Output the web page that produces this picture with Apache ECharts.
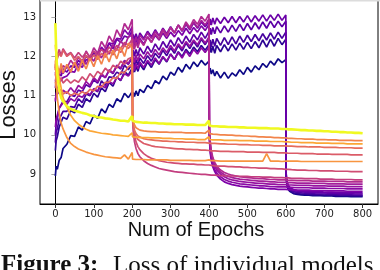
<!DOCTYPE html>
<html>
<head>
<meta charset="utf-8">
<script src="https://cdn.jsdelivr.net/npm/echarts@6/dist/echarts.min.js"></script>
<style>
html,body{margin:0;padding:0;background:#fff;}
#chart{width:380px;height:270px;}
</style>
</head>
<body>
<div id="chart"></div>
<script>
// ---- tick labels ----
const xTicks = [0, 100, 200, 300, 400, 500, 600, 700, 800];
const yTicks = [9, 10, 11, 12, 13];

// ---- epochs (shared x values) ----
const epochs = [
  0,2,5,10,15,20,30,40,50,60,70,80,90,100,110,120,130,140,150,160,170,180,190,200,
  201,203,206,210,215,220,230,240,250,260,270,280,290,300,310,320,330,340,350,360,370,380,390,400,
  401,403,406,410,415,420,430,440,450,460,470,480,490,500,510,520,530,540,550,560,570,580,590,600,
  601,603,606,610,615,620,630,640,650,660,670,680,690,700,710,720,730,740,750,760,770,780,790,800
];

// ---- losses of individual models ----
const lossM0 = [ // dark blue
  8.95,9.2,9.12,9.35,9.42,9.65,9.76,9.98,9.96,10.2,10.12,10.34,10.28,10.5,10.42,10.66,10.56,10.78,10.7,10.92,10.84,11.06,10.95,11.1,
  10.95,11.08,10.98,11.12,11.0,11.16,11.08,11.26,11.18,11.38,11.3,11.5,11.4,11.6,11.52,11.72,11.6,11.8,11.68,11.86,11.74,11.9,11.78,11.88,
  11.62,11.7,11.55,11.66,11.5,11.62,11.45,11.6,11.44,11.58,11.5,11.66,11.54,11.72,11.6,11.76,11.66,11.82,11.72,11.88,11.78,11.94,11.84,11.92,
  8.88,8.72,8.62,8.56,8.52,8.5,8.48,8.47,8.46,8.46,8.45,8.45,8.45,8.44,8.44,8.44,8.43,8.43,8.43,8.43,8.42,8.42,8.42,8.42
];
const lossM1 = [
  9.6,9.85,9.95,10.2,10.22,10.45,10.4,10.62,10.56,10.78,10.7,10.92,10.84,11.06,10.96,11.2,11.1,11.34,11.24,11.48,11.38,11.62,11.52,11.7,
  11.58,11.72,11.6,11.74,11.62,11.8,11.66,11.86,11.72,11.92,11.8,11.98,11.86,12.06,11.92,12.12,12.0,12.18,12.06,12.24,12.12,12.28,12.16,12.3,
  12.1,12.26,12.1,12.26,12.08,12.28,12.12,12.3,12.14,12.32,12.16,12.34,12.18,12.36,12.2,12.38,12.22,12.42,12.24,12.44,12.26,12.46,12.3,12.44,
  8.9,8.74,8.64,8.58,8.54,8.52,8.5,8.49,8.48,8.48,8.47,8.47,8.47,8.46,8.46,8.46,8.45,8.45,8.45,8.45,8.44,8.44,8.44,8.44
];
const lossM2 = [
  9.8,10.08,10.15,10.4,10.4,10.6,10.6,10.72,10.7,10.92,10.82,11.04,11.0,11.16,11.1,11.38,11.26,11.48,11.46,11.6,11.54,11.78,11.66,11.82,
  11.75,11.9,11.74,11.92,11.78,11.96,11.82,12.02,11.88,12.08,11.96,12.16,12.02,12.22,12.08,12.28,12.14,12.34,12.2,12.38,12.24,12.44,12.3,12.46,
  12.26,12.42,12.24,12.44,12.26,12.46,12.28,12.48,12.3,12.5,12.32,12.52,12.36,12.54,12.38,12.56,12.4,12.58,12.42,12.6,12.44,12.62,12.46,12.62,
  8.92,8.77,8.67,8.61,8.57,8.55,8.53,8.52,8.51,8.5,8.5,8.49,8.49,8.49,8.48,8.48,8.48,8.47,8.47,8.47,8.47,8.46,8.46,8.46
];
const lossM3 = [
  10.0,10.26,10.4,10.68,10.66,10.86,10.84,11.02,10.98,11.14,11.1,11.28,11.22,11.4,11.32,11.52,11.46,11.64,11.56,11.76,11.68,11.88,11.8,11.96,
  12.0,12.16,12.0,12.18,12.02,12.22,12.06,12.26,12.1,12.32,12.16,12.38,12.22,12.42,12.26,12.48,12.32,12.52,12.36,12.56,12.42,12.62,12.46,12.64,
  12.56,12.72,12.56,12.74,12.58,12.76,12.6,12.78,12.62,12.8,12.64,12.82,12.66,12.84,12.68,12.86,12.7,12.88,12.72,12.9,12.74,12.9,12.76,12.9,
  8.95,8.8,8.7,8.64,8.6,8.58,8.56,8.55,8.54,8.53,8.53,8.52,8.52,8.52,8.51,8.51,8.51,8.5,8.5,8.5,8.5,8.49,8.49,8.49
];
const lossM4 = [
  11.2,11.36,11.38,11.56,11.5,11.68,11.6,11.76,11.72,11.9,11.8,12.02,11.9,12.1,12.04,12.2,12.12,12.34,12.2,12.44,12.36,12.52,12.48,12.66,
  12.4,12.56,12.4,12.58,12.42,12.6,12.46,12.64,12.5,12.68,12.52,12.72,12.58,12.76,12.6,12.8,12.64,12.82,12.68,12.86,12.72,12.88,12.76,12.9,
  12.8,12.96,12.8,12.98,12.82,12.98,12.84,13.0,12.86,13.02,12.86,13.02,12.88,13.04,12.88,13.04,12.9,13.06,12.9,13.06,12.92,13.08,12.92,13.06,
  9.0,8.82,8.72,8.66,8.62,8.6,8.58,8.57,8.56,8.56,8.55,8.55,8.55,8.54,8.54,8.54,8.53,8.53,8.53,8.53,8.52,8.52,8.52,8.52
];
const lossM5 = [
  10.85,11.05,11.1,11.32,11.28,11.46,11.5,11.62,11.6,11.82,11.72,11.92,11.9,12.04,12.0,12.24,12.12,12.34,12.32,12.46,12.44,12.68,12.56,12.76,
  12.26,12.42,12.26,12.44,12.28,12.46,12.32,12.5,12.36,12.54,12.42,12.6,12.46,12.62,12.5,12.66,12.54,12.72,12.58,12.74,12.62,12.78,12.66,12.82,
  9.9,9.56,9.34,9.18,9.06,8.97,8.87,8.8,8.76,8.73,8.71,8.69,8.68,8.67,8.66,8.65,8.64,8.64,8.63,8.62,8.62,8.61,8.61,8.61,
  8.61,8.61,8.6,8.6,8.6,8.6,8.59,8.59,8.59,8.59,8.58,8.58,8.58,8.58,8.57,8.57,8.57,8.57,8.57,8.56,8.56,8.56,8.56,8.56
];
const lossM6 = [
  10.2,10.4,10.45,10.68,10.66,10.82,10.78,10.92,10.86,11.0,10.96,11.08,11.02,11.18,11.12,11.26,11.2,11.36,11.3,11.46,11.4,11.56,11.5,11.64,
  11.66,11.8,11.64,11.82,11.68,11.86,11.72,11.9,11.78,11.96,11.82,12.0,11.88,12.06,11.92,12.1,11.96,12.14,12.0,12.18,12.06,12.22,12.1,12.24,
  9.95,9.62,9.4,9.24,9.12,9.03,8.93,8.86,8.82,8.79,8.77,8.75,8.74,8.73,8.72,8.71,8.7,8.7,8.69,8.68,8.68,8.67,8.67,8.67,
  8.67,8.67,8.66,8.66,8.66,8.66,8.65,8.65,8.65,8.65,8.64,8.64,8.64,8.64,8.63,8.63,8.63,8.63,8.63,8.62,8.62,8.62,8.62,8.62
];
const lossM7 = [
  10.9,11.0,10.95,11.1,10.98,11.14,11.06,11.2,11.08,11.26,11.18,11.36,11.26,11.46,11.36,11.56,11.46,11.66,11.58,11.78,11.7,11.9,11.82,12.0,
  11.86,12.0,11.84,12.04,11.88,12.06,11.94,12.12,11.98,12.18,12.04,12.22,12.1,12.28,12.14,12.32,12.2,12.38,12.26,12.42,12.3,12.48,12.34,12.5,
  10.0,9.7,9.48,9.32,9.2,9.1,9.0,8.93,8.88,8.85,8.83,8.81,8.8,8.79,8.78,8.77,8.76,8.76,8.75,8.74,8.74,8.73,8.73,8.73,
  8.73,8.73,8.72,8.72,8.72,8.72,8.71,8.71,8.71,8.71,8.7,8.7,8.7,8.7,8.69,8.69,8.69,8.69,8.69,8.68,8.68,8.68,8.68,8.68
];
const lossM8 = [
  11.6,11.46,11.66,11.5,11.72,11.56,11.76,11.62,11.84,11.7,11.92,11.8,12.0,11.88,12.1,11.96,12.2,12.06,12.3,12.16,12.4,12.26,12.5,12.54,
  12.3,12.46,12.32,12.5,12.36,12.54,12.42,12.6,12.46,12.64,12.52,12.7,12.56,12.74,12.6,12.8,12.66,12.84,12.7,12.88,12.74,12.92,12.8,12.96,
  10.1,9.78,9.55,9.38,9.25,9.15,9.05,8.98,8.94,8.91,8.89,8.87,8.86,8.85,8.84,8.83,8.82,8.82,8.81,8.8,8.8,8.79,8.79,8.79,
  8.79,8.79,8.78,8.78,8.78,8.78,8.77,8.77,8.77,8.77,8.76,8.76,8.76,8.76,8.75,8.75,8.75,8.75,8.75,8.74,8.74,8.74,8.74,8.74
];
const lossM9 = [
  11.36,11.5,11.5,11.68,11.6,11.76,11.7,11.9,11.76,11.98,11.86,12.14,11.96,12.22,12.08,12.38,12.22,12.52,12.36,12.68,12.5,12.84,12.68,12.95,
  12.16,12.32,12.18,12.36,12.22,12.42,12.28,12.5,12.36,12.58,12.44,12.66,12.52,12.74,12.6,12.8,12.66,12.88,12.74,12.94,12.82,13.02,12.9,13.08,
  10.2,9.85,9.6,9.42,9.3,9.2,9.1,9.04,9.0,8.97,8.95,8.93,8.92,8.91,8.9,8.89,8.88,8.88,8.87,8.86,8.86,8.85,8.85,8.85,
  8.85,8.85,8.84,8.84,8.84,8.84,8.83,8.83,8.83,8.83,8.82,8.82,8.82,8.82,8.81,8.81,8.81,8.81,8.81,8.8,8.8,8.8,8.8,8.8
];
const lossM10 = [
  11.7,11.95,12.0,12.18,12.02,12.2,12.04,12.1,11.96,12.1,11.98,12.1,12.0,12.14,12.02,12.18,12.08,12.24,12.12,12.28,12.2,12.36,12.28,12.44,
  10.4,10.05,9.82,9.65,9.52,9.44,9.34,9.27,9.22,9.18,9.14,9.12,9.1,9.08,9.06,9.05,9.04,9.03,9.02,9.01,9.0,8.99,8.99,8.98,
  8.98,8.98,8.97,8.97,8.97,8.96,8.96,8.96,8.95,8.95,8.95,8.94,8.94,8.94,8.93,8.93,8.93,8.92,8.92,8.92,8.91,8.91,8.91,8.9,
  8.9,8.9,8.9,8.9,8.89,8.89,8.89,8.89,8.88,8.88,8.88,8.88,8.87,8.87,8.87,8.87,8.86,8.86,8.86,8.86,8.86,8.85,8.85,8.85
];
const lossM11 = [
  11.55,11.44,11.5,11.36,11.46,11.32,11.42,11.32,11.4,11.34,11.48,11.38,11.56,11.46,11.62,11.54,11.7,11.6,11.78,11.7,11.88,11.8,11.94,11.98,
  10.55,10.2,9.98,9.82,9.7,9.62,9.52,9.45,9.4,9.37,9.34,9.32,9.3,9.29,9.28,9.27,9.26,9.26,9.25,9.25,9.24,9.24,9.23,9.23,
  9.23,9.22,9.22,9.22,9.21,9.21,9.2,9.2,9.19,9.19,9.18,9.18,9.17,9.17,9.16,9.16,9.15,9.15,9.15,9.14,9.14,9.13,9.13,9.12,
  9.12,9.12,9.12,9.11,9.11,9.11,9.1,9.1,9.1,9.09,9.09,9.09,9.08,9.08,9.08,9.08,9.07,9.07,9.07,9.07,9.06,9.06,9.06,9.06
];
const lossM12 = [
  11.65,11.86,11.9,12.08,12.0,12.16,12.0,12.08,11.9,12.0,11.88,12.02,11.9,12.04,11.92,12.08,11.98,12.14,12.04,12.2,12.1,12.28,12.2,12.34,
  10.5,10.22,10.05,9.95,9.88,9.83,9.78,9.75,9.72,9.7,9.69,9.68,9.67,9.66,9.65,9.64,9.64,9.63,9.63,9.62,9.62,9.61,9.61,9.6,
  9.6,9.6,9.59,9.59,9.59,9.59,9.58,9.58,9.58,9.57,9.57,9.57,9.57,9.56,9.56,9.56,9.56,9.55,9.55,9.55,9.55,9.54,9.54,9.54,
  9.54,9.54,9.53,9.53,9.53,9.53,9.53,9.52,9.52,9.52,9.52,9.51,9.51,9.51,9.51,9.5,9.5,9.5,9.5,9.5,9.49,9.49,9.49,9.49
];
const lossM13 = [
  11.35,11.2,11.25,11.1,11.16,11.04,11.1,11.0,11.06,11.02,11.1,11.04,11.16,11.12,11.24,11.22,11.34,11.34,11.46,11.44,11.6,11.58,11.74,11.78,
  10.45,10.25,10.12,10.03,9.97,9.93,9.9,9.88,9.87,9.86,9.85,9.84,9.84,9.83,9.83,9.82,9.82,9.81,9.81,9.81,9.8,9.8,9.8,9.79,
  9.79,9.79,9.78,9.78,9.78,9.77,9.77,9.77,9.76,9.76,9.76,9.75,9.75,9.75,9.74,9.74,9.74,9.73,9.73,9.73,9.72,9.72,9.72,9.72,
  9.72,9.72,9.71,9.71,9.71,9.71,9.7,9.7,9.7,9.69,9.69,9.69,9.69,9.68,9.68,9.68,9.68,9.67,9.67,9.67,9.67,9.66,9.66,9.66
];
const lossM14 = [
  11.8,11.5,11.78,11.56,11.82,11.58,11.8,11.6,11.86,11.62,11.9,11.68,11.96,11.74,12.02,11.8,12.08,11.86,12.16,11.94,12.24,12.0,12.34,12.2,
  10.55,10.35,10.25,10.18,10.14,10.12,10.1,10.09,10.08,10.08,10.07,10.07,10.07,10.06,10.06,10.06,10.06,10.05,10.05,10.05,10.05,10.05,10.04,10.12,
  10.03,10.03,10.02,10.02,10.01,10.01,10.0,10.0,9.99,9.99,9.98,9.98,9.97,9.97,9.96,9.96,9.95,9.95,9.94,9.94,9.93,9.93,9.92,9.92,
  9.92,9.92,9.91,9.91,9.91,9.91,9.9,9.9,9.89,9.89,9.89,9.88,9.88,9.88,9.87,9.87,9.87,9.86,9.86,9.86,9.86,9.85,9.85,9.85
];
const lossM15 = [
  11.9,11.4,10.95,10.55,10.3,10.15,9.93,9.78,9.7,9.64,9.6,9.56,9.53,9.5,9.48,9.46,9.44,9.43,9.42,9.41,9.4,9.49,9.38,9.55,
  9.38,9.38,9.37,9.37,9.37,9.37,9.37,9.36,9.36,9.36,9.36,9.36,9.36,9.35,9.35,9.35,9.35,9.35,9.35,9.34,9.34,9.34,9.34,9.36,
  9.34,9.34,9.34,9.34,9.34,9.34,9.33,9.33,9.33,9.33,9.33,9.33,9.33,9.33,9.33,9.33,9.33,9.33,9.52,9.33,9.33,9.33,9.32,9.33,
  9.33,9.33,9.33,9.33,9.33,9.33,9.33,9.32,9.32,9.32,9.32,9.32,9.32,9.32,9.32,9.32,9.32,9.32,9.32,9.32,9.32,9.32,9.32,9.32
];
const lossM16 = [
  12.3,12.0,11.7,11.45,11.2,10.95,10.7,10.5,10.36,10.27,10.2,10.14,10.1,10.08,10.06,10.04,10.03,10.02,10.0,9.99,9.98,9.97,9.96,10.05,
  9.95,9.95,9.94,9.94,9.94,9.93,9.93,9.93,9.92,9.92,9.92,9.91,9.91,9.91,9.9,9.9,9.9,9.89,9.89,9.89,9.88,9.88,9.88,9.95,
  9.88,9.88,9.88,9.87,9.87,9.87,9.87,9.86,9.86,9.86,9.86,9.85,9.85,9.85,9.85,9.84,9.84,9.84,9.84,9.83,9.83,9.83,9.83,9.82,
  9.82,9.82,9.82,9.81,9.81,9.81,9.81,9.8,9.8,9.8,9.8,9.79,9.79,9.79,9.79,9.78,9.78,9.78,9.78,9.77,9.77,9.77,9.77,9.77
];
const lossM17 = [ // yellow
  12.85,12.2,11.55,11.15,10.95,10.85,10.73,10.66,10.62,10.59,10.56,10.54,10.5,10.48,10.45,10.44,10.42,10.41,10.39,10.38,10.36,10.36,10.34,10.48,
  10.36,10.34,10.33,10.33,10.32,10.32,10.31,10.31,10.3,10.3,10.29,10.29,10.28,10.28,10.27,10.27,10.27,10.26,10.26,10.26,10.25,10.25,10.25,10.36,
  10.24,10.23,10.23,10.22,10.22,10.22,10.21,10.21,10.2,10.2,10.2,10.19,10.19,10.18,10.18,10.18,10.17,10.17,10.17,10.16,10.16,10.16,10.15,10.15,
  10.15,10.15,10.14,10.14,10.14,10.13,10.13,10.12,10.12,10.11,10.11,10.1,10.1,10.09,10.09,10.08,10.08,10.07,10.07,10.06,10.06,10.05,10.05,10.04
];

const allLosses = [lossM0,lossM1,lossM2,lossM3,lossM4,lossM5,lossM6,lossM7,lossM8,lossM9,
                   lossM10,lossM11,lossM12,lossM13,lossM14,lossM15,lossM16,lossM17];
const lineColors = ['#0d0887','#2c0594','#46039f','#5c01a6','#6a00a8','#7e03a8','#8a09a5','#9612a0','#a31e9a','#b12a90',
                    '#c33e7f','#d04d73','#db5c68','#e66c5c','#f2844b','#f89540','#fca636','#f0f921'];

allLosses.forEach((a, k) => { if (a.length !== epochs.length) throw new Error('series ' + k + ' has ' + a.length); });

const chart = echarts.init(document.getElementById('chart'), null, {renderer: 'canvas'});
const tickFont = 'DejaVu Sans';
chart.setOption({
  animation: false,
  backgroundColor: '#fff',
  grid: {left: 40, right: 2, top: 0, bottom: 66, show: true, borderColor: '#000', borderWidth: 1},
  xAxis: {
    type: 'value', min: -40, max: 840,
    axisLine: {show: true, lineStyle: {color: '#000', width: 1}},
    axisTick: {show: true, customValues: xTicks, length: 4, lineStyle: {color: '#333'}},
    axisLabel: {customValues: xTicks, fontFamily: tickFont, fontSize: 10, color: '#222', margin: 5},
    splitLine: {show: false}
  },
  yAxis: {
    type: 'value', min: 8.235, max: 13.44,
    axisLine: {show: true, lineStyle: {color: '#000', width: 1}},
    axisTick: {show: true, customValues: yTicks, length: 4, lineStyle: {color: '#aaa'}},
    axisLabel: {customValues: yTicks, fontFamily: tickFont, fontSize: 10, color: '#222', margin: 4},
    splitLine: {show: false}
  },
  series: allLosses.map((vals, k) => ({
    type: 'line',
    data: epochs.map((e, i) => [e, vals[i]]),
    showSymbol: false,
    symbol: 'none',
    lineStyle: {color: lineColors[k], width: k === 17 ? 2.6 : 1.7},
    z: 2 + k,
    silent: true
  })),
  graphic: [
    {type: 'rect', z: 100, shape: {x: 40, y: 0, width: 340, height: 1.5}, style: {fill: '#dcdcdc'}},
    {type: 'text', x: 9, y: 105, rotation: Math.PI / 2,
     style: {text: 'Losses', font: '22px "Liberation Sans"', fill: '#111', textAlign: 'center', textVerticalAlign: 'middle'}},
    {type: 'text', x: 196, y: 230,
     style: {text: 'Num of Epochs', font: '20px "Liberation Sans"', fill: '#111', textAlign: 'center', textVerticalAlign: 'middle'}},
    {type: 'text', x: 1, y: 266,
     style: {text: 'Figure 3:', font: 'bold 25px "Liberation Serif"', fill: '#111', textAlign: 'left', textVerticalAlign: 'middle'}},
    {type: 'text', x: 113, y: 266,
     style: {text: 'Loss of individual models', font: '25px "Liberation Serif"', fill: '#111', textAlign: 'left', textVerticalAlign: 'middle'}}
  ]
});
</script>
</body>
</html>
